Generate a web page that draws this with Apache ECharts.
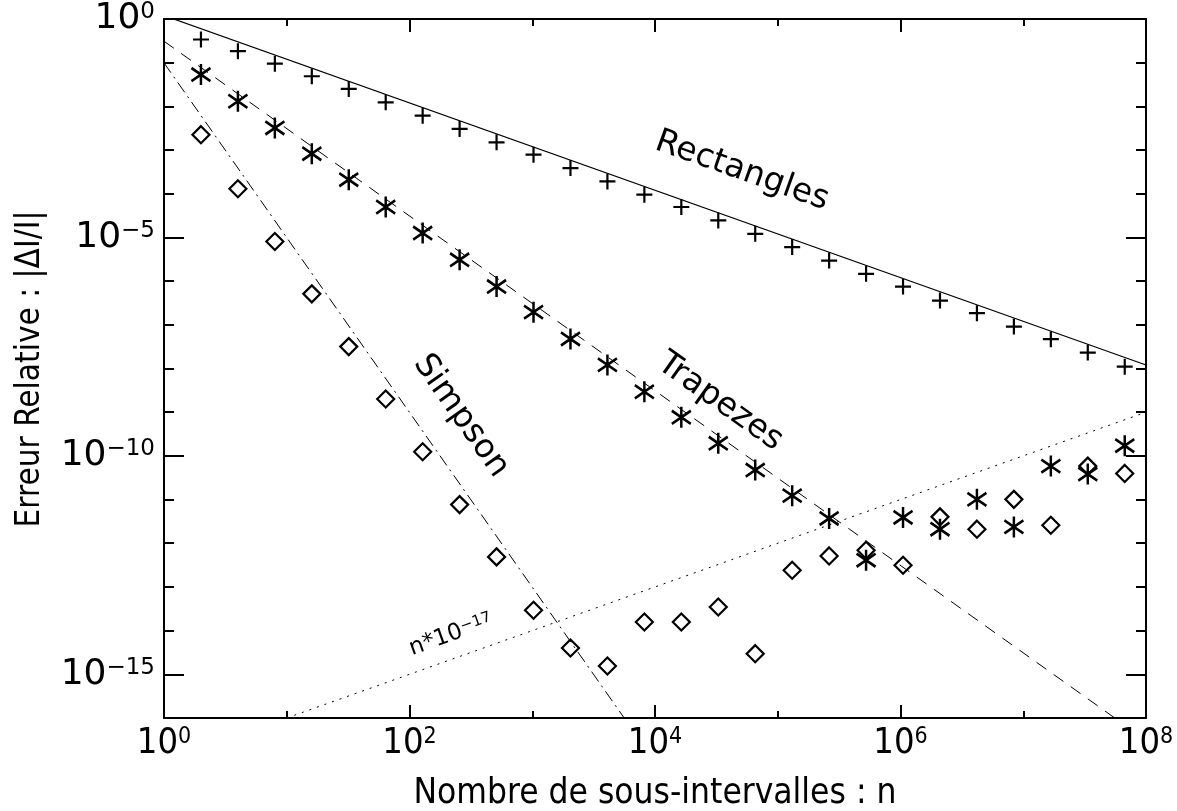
<!DOCTYPE html>
<html>
<head>
<meta charset="utf-8">
<script src="https://cdn.jsdelivr.net/npm/echarts@6/dist/echarts.min.js"></script>
<style>html,body{margin:0;background:#fff}#chart{width:1177px;height:811px}</style>
</head>
<body>
<div id="chart"></div>
<script>
// number of sub-intervals n = 2^k, k = 1..26
var nVals = [2, 4, 8, 16, 32, 64, 128, 256, 512, 1024, 2048, 4096, 8192, 16384, 32768,
	65536, 131072, 262144, 524288, 1048576, 2097152, 4194304, 8388608, 16777216, 33554432, 67108864];

// relative errors
var rectErr = [3.39e-1, 1.83e-1, 9.5e-2, 4.89e-2, 2.51e-2, 1.24e-2, 6.14e-3, 3.04e-3, 1.50e-3, 7.83e-4,
	3.88e-4, 1.91e-4, 9.5e-5, 4.97e-5, 2.45e-5, 1.21e-5, 6.01e-6, 2.96e-6, 1.47e-6, 7.52e-7,
	3.59e-7, 1.85e-7, 9.1e-8, 4.68e-8, 2.31e-8, 1.10e-8];
var trapErr = [5.34e-2, 1.31e-2, 3.21e-3, 8.26e-4, 2.10e-4, 4.97e-5, 1.26e-5, 3.08e-6, 7.52e-7, 1.95e-7,
	4.75e-8, 1.21e-8, 2.94e-9, 7.63e-10, 1.94e-10, 4.73e-11, 1.23e-11, 3.70e-12, 4.09e-13, 3.90e-12,
	2.10e-12, 1.01e-11, 2.37e-12, 5.83e-11, 3.83e-11, 1.71e-10];
var simpErr = [2.25e-3, 1.30e-4, 8.07e-6, 5.11e-7, 3.17e-8, 2.00e-9, 1.24e-10, 7.66e-12, 4.87e-13, 2.92e-14,
	4.00e-15, 1.55e-15, 1.58e-14, 1.58e-14, 3.48e-14, 2.97e-15, 2.41e-13, 5.13e-13, 6.93e-13, 3.14e-13,
	4.02e-12, 2.10e-12, 1.01e-11, 2.59e-12, 5.83e-11, 3.97e-11];

// reference curves (end points)
var rectLineN = [1, 1e8], rectLineErr = [1.2, 1.2e-8];
var trapLineN = [1, 1e8], trapLineErr = [0.31, 3.1e-17];
var simpLineN = [1, 1e4], simpLineErr = [0.099, 9.9e-18];
var roundLineN = [10, 1e8], roundLineErr = [1e-16, 1e-9];

var yMajorTicks = [1, 1e-5, 1e-10, 1e-15];

var FONT = '"DejaVu Sans", sans-serif';
var COND = '"DejaVu Sans Condensed", "DejaVu Sans", sans-serif';

function pairs(xs, ys) {
	return xs.map(function (x, i) { return [x, ys[i]]; });
}
function expLabel(v) {
	var e = Math.round(Math.log10(v));
	return '{b|10}{s|' + (e < 0 ? '\u2212' + (-e) : e) + '}';
}

var tickLine = {color: '#000', width: 2};

function xAx(pos, interval, len, main) {
	return {
		type: 'log', logBase: 10, min: 1, max: 1e8, position: pos, interval: interval,
		axisLine: {show: main, onZero: false, lineStyle: tickLine},
		axisTick: {show: true, inside: true, length: len, lineStyle: tickLine},
		axisLabel: {
			show: main && pos === 'bottom', margin: 8, formatter: expLabel,
			rich: {
				b: {fontFamily: COND, fontSize: 36, color: '#000'},
				s: {fontFamily: COND, fontSize: 23, color: '#000', verticalAlign: 'top'}
			}
		},
		splitLine: {show: false}
	};
}
function yAx(pos, major) {
	var ax = {
		type: 'log', logBase: 10, min: 1e-16, max: 1, position: pos, interval: 1,
		axisLine: {show: major, onZero: false, lineStyle: tickLine},
		axisTick: {show: true, inside: true, length: major ? 20 : 10, lineStyle: tickLine},
		axisLabel: {show: false},
		splitLine: {show: false}
	};
	if (major) {
		ax.axisTick.customValues = yMajorTicks;
		ax.axisLabel = {
			show: pos === 'left', customValues: yMajorTicks, margin: 9, formatter: expLabel,
			rich: {
				b: {fontFamily: FONT, fontSize: 36, color: '#000'},
				s: {fontFamily: FONT, fontSize: 23, color: '#000', verticalAlign: 'top'}
			}
		};
	}
	return ax;
}

var myChart = echarts.init(document.getElementById('chart'));
var option = {
	animation: false,
	backgroundColor: '#fff',
	grid: {left: 164, right: 31, top: 19, bottom: 93},
	xAxis: [xAx('bottom', 2, 13, true), xAx('bottom', 1, 7, false), xAx('top', 2, 13, true), xAx('top', 1, 7, false)],
	yAxis: [yAx('left', true), yAx('left', false), yAx('right', true), yAx('right', false)],
	series: [
		{type: 'line', data: pairs(rectLineN, rectLineErr), showSymbol: false, clip: true,
			lineStyle: {color: '#000', width: 1.2}},
		{type: 'line', data: pairs(trapLineN, trapLineErr), showSymbol: false, clip: true,
			lineStyle: {color: '#000', width: 1, type: [12, 9]}},
		{type: 'line', data: pairs(simpLineN, simpLineErr), showSymbol: false, clip: true,
			lineStyle: {color: '#000', width: 1, type: [12, 5, 2, 5]}},
		{type: 'line', data: pairs(roundLineN, roundLineErr), showSymbol: false, clip: true,
			lineStyle: {color: '#000', width: 1, type: [2, 6]}},
		{type: 'scatter', data: pairs(nVals, rectErr), symbol: 'path://M0,6L12,6M6,0L6,12', symbolSize: 16,
			itemStyle: {color: '#000', borderColor: '#000', borderWidth: 2.2, opacity: 1}},
		{type: 'scatter', data: pairs(nVals, trapErr), symbol: 'path://M7,0L7,16M1,3L13,13M13,3L1,13', symbolSize: [19, 21],
			itemStyle: {color: '#000', borderColor: '#000', borderWidth: 2.6, opacity: 1}},
		{type: 'scatter', data: pairs(nVals, simpErr), symbol: 'diamond', symbolSize: 17,
			itemStyle: {color: 'rgba(0,0,0,0)', borderColor: '#000', borderWidth: 2.2, opacity: 1}}
	],
	graphic: [
		{type: 'text', x: 742, y: 171, rotation: -0.342,
			style: {text: 'Rectangles', font: '33px ' + FONT, fill: '#000', align: 'center', verticalAlign: 'middle'}},
		{type: 'text', x: 720, y: 402, rotation: -0.618,
			style: {text: 'Trapezes', font: '33px ' + FONT, fill: '#000', align: 'center', verticalAlign: 'middle'}},
		{type: 'text', x: 461, y: 416, rotation: -0.958,
			style: {text: 'Simpson', font: '33px ' + FONT, fill: '#000', align: 'center', verticalAlign: 'middle'}},
		{type: 'text', x: 451, y: 635, rotation: 0.342,
			style: {text: '{b|n*10}{s|\u221217}', align: 'center', verticalAlign: 'middle',
				rich: {b: {fontFamily: FONT, fontSize: 23, fill: '#000'},
					s: {fontFamily: FONT, fontSize: 15, fill: '#000', verticalAlign: 'top'}}}},
		{type: 'text', x: 30, y: 369, rotation: Math.PI / 2,
			style: {text: 'Erreur Relative : |\u0394I/I|', font: '33px ' + COND, fill: '#000', align: 'center', verticalAlign: 'middle'}},
		{type: 'text', x: 655, y: 794, rotation: 0,
			style: {text: 'Nombre de sous-intervalles : n', font: '35px ' + COND, fill: '#000', align: 'center', verticalAlign: 'middle'}}
	]
};
myChart.setOption(option);
</script>
</body>
</html>
